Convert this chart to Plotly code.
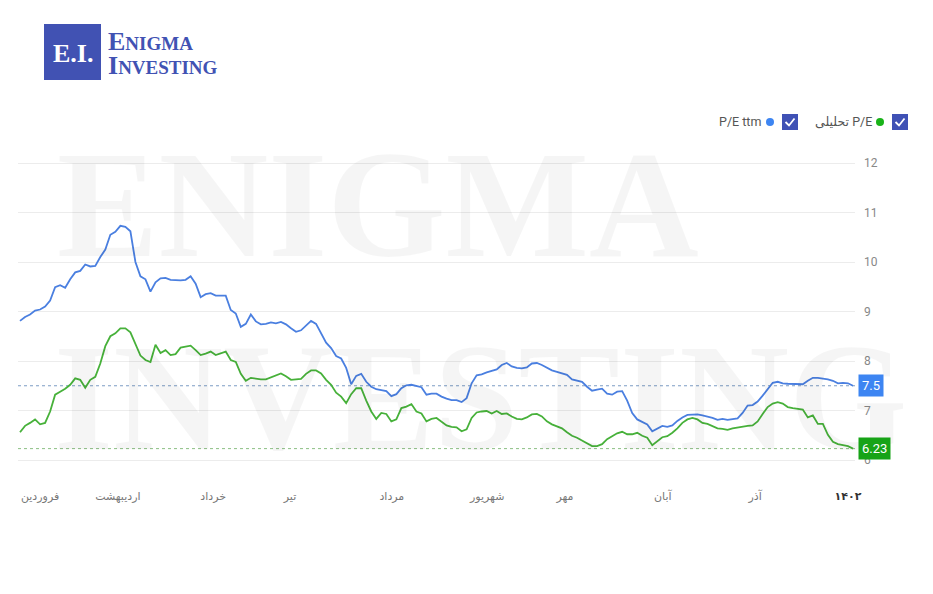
import plotly.graph_objects as go

# ---------------- data ----------------
days = list(range(167))

pe_ttm = [
    8.81, 8.89, 8.94, 9.02, 9.04, 9.10, 9.22, 9.49, 9.53, 9.48,
    9.65, 9.79, 9.82, 9.95, 9.91, 9.92, 10.10, 10.25, 10.55, 10.61,
    10.73, 10.71, 10.62, 10.00, 9.71, 9.65, 9.40, 9.59, 9.67, 9.68,
    9.64, 9.63, 9.63, 9.64, 9.71, 9.56, 9.29, 9.35, 9.37, 9.32,
    9.32, 9.32, 9.03, 8.96, 8.69, 8.75, 8.94, 8.80, 8.74, 8.75,
    8.78, 8.76, 8.79, 8.74, 8.66, 8.59, 8.62, 8.72, 8.81, 8.75,
    8.55, 8.37, 8.26, 8.10, 8.05, 7.86, 7.53, 7.70, 7.74, 7.58,
    7.48, 7.43, 7.41, 7.39, 7.29, 7.33, 7.45, 7.51, 7.52, 7.50,
    7.47, 7.32, 7.34, 7.34, 7.28, 7.24, 7.21, 7.21, 7.17, 7.25,
    7.55, 7.71, 7.73, 7.77, 7.80, 7.83, 7.92, 7.96, 7.89, 7.86,
    7.85, 7.87, 7.95, 7.96, 7.92, 7.87, 7.81, 7.78, 7.75, 7.72,
    7.63, 7.61, 7.58, 7.48, 7.40, 7.42, 7.44, 7.34, 7.32, 7.38,
    7.39, 7.20, 6.95, 6.82, 6.77, 6.72, 6.58, 6.64, 6.69, 6.67,
    6.70, 6.79, 6.86, 6.91, 6.92, 6.92, 6.90, 6.88, 6.85, 6.81,
    6.83, 6.81, 6.82, 6.84, 6.95, 7.10, 7.11, 7.18, 7.30, 7.43,
    7.56, 7.58, 7.55, 7.54, 7.54, 7.53, 7.53, 7.60, 7.66, 7.66,
    7.65, 7.63, 7.60, 7.55, 7.56, 7.55, 7.50,
]

pe_forward = [
    6.56, 6.69, 6.75, 6.82, 6.72, 6.75, 6.98, 7.32, 7.38, 7.44,
    7.52, 7.65, 7.62, 7.46, 7.62, 7.68, 7.95, 8.30, 8.50, 8.56,
    8.66, 8.66, 8.58, 8.35, 8.11, 8.02, 7.98, 8.33, 8.16, 8.22,
    8.12, 8.14, 8.27, 8.29, 8.31, 8.22, 8.12, 8.15, 8.19, 8.12,
    8.15, 8.19, 8.02, 7.98, 7.74, 7.60, 7.66, 7.64, 7.63, 7.63,
    7.67, 7.71, 7.75, 7.69, 7.62, 7.63, 7.64, 7.74, 7.81, 7.81,
    7.75, 7.62, 7.52, 7.36, 7.28, 7.15, 7.33, 7.45, 7.45, 7.20,
    6.98, 6.83, 6.95, 6.93, 6.78, 6.82, 7.05, 7.08, 7.13, 6.98,
    6.94, 6.78, 6.83, 6.85, 6.78, 6.70, 6.67, 6.66, 6.58, 6.62,
    6.85, 6.96, 6.98, 6.99, 6.94, 6.99, 6.93, 6.94, 6.88, 6.83,
    6.82, 6.86, 6.92, 6.93, 6.88, 6.78, 6.72, 6.68, 6.64, 6.56,
    6.49, 6.45, 6.39, 6.33, 6.28, 6.28, 6.32, 6.42, 6.48, 6.54,
    6.57, 6.52, 6.52, 6.55, 6.49, 6.45, 6.30, 6.38, 6.46, 6.48,
    6.55, 6.64, 6.75, 6.82, 6.85, 6.82, 6.75, 6.73, 6.68, 6.64,
    6.63, 6.61, 6.64, 6.66, 6.68, 6.69, 6.70, 6.78, 6.93, 7.07,
    7.14, 7.17, 7.14, 7.07, 7.05, 7.03, 7.02, 6.86, 6.90, 6.73,
    6.73, 6.51, 6.37, 6.32, 6.30, 6.28, 6.23,
]

month_pos = [4.0, 19.5, 38.5, 53.8, 74.1, 93.1, 108.6, 128.1, 146.5, 165.0]
month_labels = ["فروردین", "اردیبهشت", "خرداد", "تیر", "مرداد",
                "شهریور", "مهر", "آبان", "آذر", "۱۴۰۲"]
y_ticks = [6, 7, 8, 9, 10, 11, 12]

name_ttm = "P/E ttm"
name_fwd = "P/E تحلیلی"

# ---------------- styling ----------------
W, H = 933, 594
L, R, T, B = 18, 78, 158, 124
PW, PH = W - L - R, H - T - B

def px(x):
    return (x - L) / PW

def py(y):
    return (H - B - y) / PH

BLUE_LINE = "#4a7fe0"
GREEN_LINE = "#47b13a"
BLUE_BOX = "#3d85f2"
GREEN_BOX = "#17a317"
LOGO = "#4152b3"
FONT = "Roboto, DejaVu Sans, sans-serif"
RTL = lambda s: "\u202b" + s + "\u202c"

fig = go.Figure()
fig.add_trace(go.Scatter(x=days, y=pe_ttm, mode="lines", name=name_ttm,
                         line=dict(color=BLUE_LINE, width=1.8)))
fig.add_trace(go.Scatter(x=days, y=pe_forward, mode="lines", name=name_fwd,
                         line=dict(color=GREEN_LINE, width=1.8)))

shapes = []
annotations = []

# watermark (faint)
WM = "rgba(0,0,0,0.04)"
annotations.append(dict(xref="paper", yref="paper", x=px(378), y=py(205),
                        text="<b>ENIGMA</b>", showarrow=False, xanchor="center", yanchor="middle",
                        font=dict(family="Liberation Serif", size=152, color=WM)))
annotations.append(dict(xref="paper", yref="paper", x=px(480), y=py(398),
                        text="<b>INVESTING</b>", showarrow=False, xanchor="center", yanchor="middle",
                        font=dict(family="Liberation Serif", size=152, color=WM)))

# dotted last-value lines
for val, col in [(pe_ttm[-1], "#7d9cc4"), (pe_forward[-1], "#8cbf84")]:
    shapes.append(dict(type="line", xref="paper", yref="y", x0=0, x1=1,
                       y0=val, y1=val, line=dict(color=col, width=1, dash="dot"),
                       layer="below"))

# last value boxes
for val, col in [(pe_ttm[-1], BLUE_BOX), (pe_forward[-1], GREEN_BOX)]:
    annotations.append(dict(xref="paper", yref="y", x=1, y=val, xanchor="left",
                            yanchor="middle", xshift=3, text=f"{val:g}", showarrow=False,
                            bgcolor=col, borderpad=3,
                            font=dict(family=FONT, size=13, color="white")))

# logo
shapes.append(dict(type="rect", xref="paper", yref="paper", x0=px(44), x1=px(101),
                   y0=py(80), y1=py(24), fillcolor=LOGO, line=dict(width=0)))
annotations.append(dict(xref="paper", yref="paper", x=px(72.5), y=py(53),
                        text="<b>E.I.</b>", showarrow=False, xanchor="center", yanchor="middle",
                        font=dict(family="Liberation Serif", size=26, color="white")))
annotations.append(dict(xref="paper", yref="paper", x=px(106), y=py(41),
                        text="<b>E<span style='font-size:19px'>NIGMA</span></b>", showarrow=False,
                        xanchor="left", yanchor="middle",
                        font=dict(family="Liberation Serif", size=26, color=LOGO)))
annotations.append(dict(xref="paper", yref="paper", x=px(106), y=py(66),
                        text="<b>I<span style='font-size:19px'>NVESTING</span></b>", showarrow=False,
                        xanchor="left", yanchor="middle",
                        font=dict(family="Liberation Serif", size=26, color=LOGO)))

# custom legend (checkbox, dot, label)
CB = "#3f51b5"
for cb_x, dot_col, label, text_right in [(892, "#19b319", RTL(name_fwd), 874),
                                          (782, "#3d85f2", name_ttm, 763)]:
    shapes.append(dict(type="rect", xref="paper", yref="paper",
                       x0=px(cb_x), x1=px(cb_x + 16), y0=py(130), y1=py(114),
                       fillcolor=CB, line=dict(width=0)))
    path = (f"M {px(cb_x + 3.5)},{py(122)} L {px(cb_x + 7)},{py(125.5)} "
            f"L {px(cb_x + 12.5)},{py(118.5)}")
    shapes.append(dict(type="path", xref="paper", yref="paper", path=path,
                       line=dict(color="white", width=1.8)))
    shapes.append(dict(type="circle", xref="paper", yref="paper",
                       x0=px(cb_x - 16), x1=px(cb_x - 8), y0=py(126), y1=py(118),
                       fillcolor=dot_col, line=dict(width=0)))
    annotations.append(dict(xref="paper", yref="paper", x=px(text_right), y=py(122),
                            text=label, showarrow=False, xanchor="right", yanchor="middle",
                            font=dict(family=FONT, size=12.5, color="#555")))

ticktext = month_labels[:-1] + [f"<span style='color:#333'><b>{month_labels[-1]}</b></span>"]

fig.update_layout(
    width=W, height=H,
    margin=dict(l=L, r=R, t=T, b=B),
    paper_bgcolor="white", plot_bgcolor="white",
    showlegend=False,
    shapes=shapes, annotations=annotations,
    font=dict(family=FONT, size=11, color="#888"),
    xaxis=dict(range=[-0.4, 166.4], tickvals=month_pos, ticktext=ticktext,
               showgrid=False, zeroline=False, showline=False, ticks="",
               tickfont=dict(size=11, color="#777"), ticklabelstandoff=18),
    yaxis=dict(range=[5.798, 12.101], side="right", tickvals=y_ticks,
               showgrid=True, gridcolor="#ececec", gridwidth=1, zeroline=False,
               showline=False, ticks="", tickfont=dict(size=12, color="#888"),
               ticklabelstandoff=8),
)

fig.write_html("out.html")
